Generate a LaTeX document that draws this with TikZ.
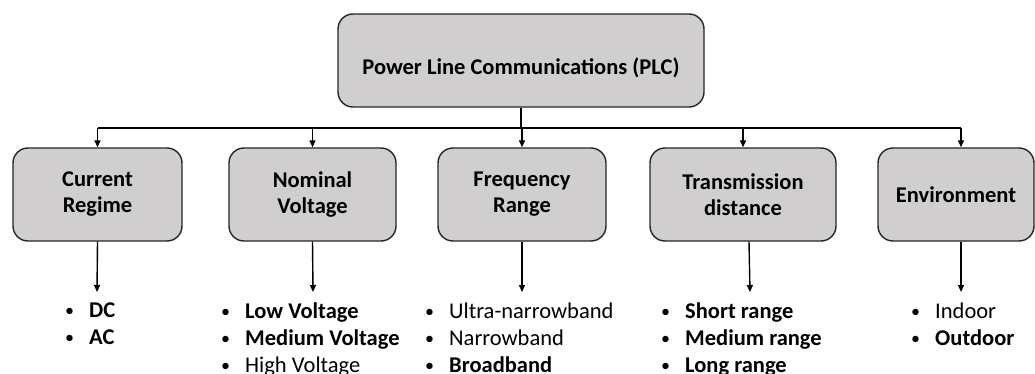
\documentclass[tikz,border=0pt]{standalone}
\usepackage{fontspec}
\setmainfont{Carlito}
\usetikzlibrary{arrows.meta}
\definecolor{boxgray}{HTML}{D0CECE}
\newcommand{\bl}[1]{\makebox[25pt][l]{\hspace{1pt}\raisebox{1pt}{\normalfont\fontsize{18}{18}\selectfont\textbullet}}#1}
\tikzset{
  box/.style={draw=black!85, line width=1.4pt, fill=boxgray, rounded corners=15pt,
    minimum height=93pt, align=center, inner sep=0pt,
    font=\fontsize{22.5}{26}\selectfont\bfseries},
  lst/.style={anchor=north west, align=left, inner sep=0pt,
    font=\fontsize{22.5}{27}\selectfont},
  conn/.style={line width=1.4pt, draw=black},
  arr/.style={conn, -{Triangle[length=7pt,width=6pt]}}
}
\begin{document}
\begin{tikzpicture}[x=1pt,y=-1pt]
\useasboundingbox (0,0) rectangle (1035,374);
\node[box, minimum width=366pt, text height=28pt, text depth=0pt] (top) at (521,60.5) {Power Line Communications (PLC)};
\node[box, minimum width=169pt] (c1) at (97.5,194.5) {Current\\Regime};
\node[box, minimum width=167pt] (c2) at (312.5,194.5) {Nominal\\Voltage};
\node[box, minimum width=168pt] (c3) at (522,194.5) {Frequency\\Range};
\node[box, minimum width=186pt] (c4) at (743,194.5) {Transmission\\distance};
\node[box, minimum width=156pt] (c5) at (956,194.5) {Environment};
\coordinate (bus) at (0,128);
\draw[conn] (top.south) -- (top.south |- bus);
\draw[conn] (c1.north |- bus) -- ([xshift=5pt]c5.north |- bus);
\draw[arr] (c1.north |- bus) -- (c1.north);
\draw[arr] (c2.north |- bus) -- (c2.north);
\draw[arr] (c3.north |- bus) -- (c3.north);
\draw[arr] (c4.north |- bus) -- (c4.north);
\draw[arr] ([xshift=5pt]c5.north |- bus) -- ([xshift=5pt]c5.north);
\coordinate (e1) at (97,292);
\coordinate (e2) at (313,292);
\coordinate (e3) at (522,292);
\coordinate (e4) at (750,292);
\coordinate (e5) at (961,292);
\draw[arr] (c1.south) -- (e1);
\draw[arr] (c2.south) -- (e2);
\draw[arr] (c3.south) -- (e3);
\draw[arr] ([xshift=6pt]c4.south) -- (e4);
\draw[arr] ([xshift=5pt]c5.south) -- (e5);
\node[lst] (l1) at (64,302.5) {\bl{\textbf{DC}}\\\bl{\textbf{AC}}};
\node[lst] (l2) at (220,302.5) {\bl{\textbf{Low Voltage}}\\\bl{\textbf{Medium Voltage}}\\\bl{High Voltage}};
\node[lst] (l3) at (424,302.5) {\bl{Ultra-narrowband}\\\bl{Narrowband}\\\bl{\textbf{Broadband}}};
\node[lst] (l4) at (660,302.5) {\bl{\textbf{Short range}}\\\bl{\textbf{Medium range}}\\\bl{\textbf{Long range}}};
\node[lst] (l5) at (910,302.5) {\bl{Indoor}\\\bl{\textbf{Outdoor}}};
\end{tikzpicture}
\end{document}
